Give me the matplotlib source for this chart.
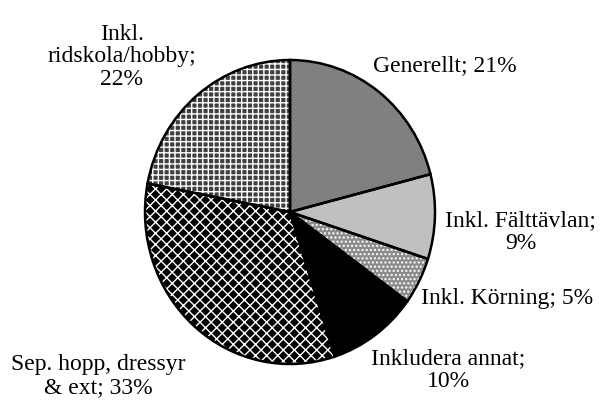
import matplotlib.pyplot as plt

plt.rcParams['font.family'] = ['Liberation Serif', 'DejaVu Serif']
plt.rcParams['hatch.linewidth'] = 1.0

# data, clockwise from 12 o'clock
labels = ["Generellt; 21%", "Inkl. Fälttävlan;\n9%", "Inkl. Körning; 5%",
          "Inkludera annat;\n10%", "Sep. hopp, dressyr\n& ext; 33%",
          "Inkl.\nridskola/hobby;\n22%"]
values = [21, 9, 5, 10, 33, 22]

# label positions in pie units (radius 1)
label_pos = [(1.07, 0.96), (1.59, -0.13), (1.50, -0.57),
             (1.09, -1.04), (-1.32, -1.08), (-1.16, 1.02)]
face = ['#808080', '#c0c0c0', '#8c8c8c', '#000000', '#000000', '#404040']
hatches = [None, None, '....', None, 'xxx', '+++']

fig = plt.figure(figsize=(6.01, 4.19), dpi=100)
ax = fig.add_axes([0, 0, 1, 1])

# filled wedges with white hatch, no edge
wedges, _ = ax.pie(values, startangle=90, counterclock=False,
                   colors=face, wedgeprops=dict(linewidth=0))
for w, h in zip(wedges, hatches):
    if h:
        w.set_hatch(h)
        w.set_edgecolor('white')
        w.set_linewidth(0)

# black outlines on top
ax.pie(values, startangle=90, counterclock=False,
       wedgeprops=dict(facecolor='none', edgecolor='black', linewidth=1.8))

for lab, (x, y) in zip(labels, label_pos):
    ax.text(x, y, lab, ha='center', va='center', fontsize=17, linespacing=1.1)

# pie in the reference is slightly taller than wide
ax.set_aspect('auto')
ax.set_xlim(-290 / 145, 311 / 145)
ax.set_ylim(-207 / 152, 212 / 152)
ax.axis('off')

fig.savefig('out.png', dpi=100)
